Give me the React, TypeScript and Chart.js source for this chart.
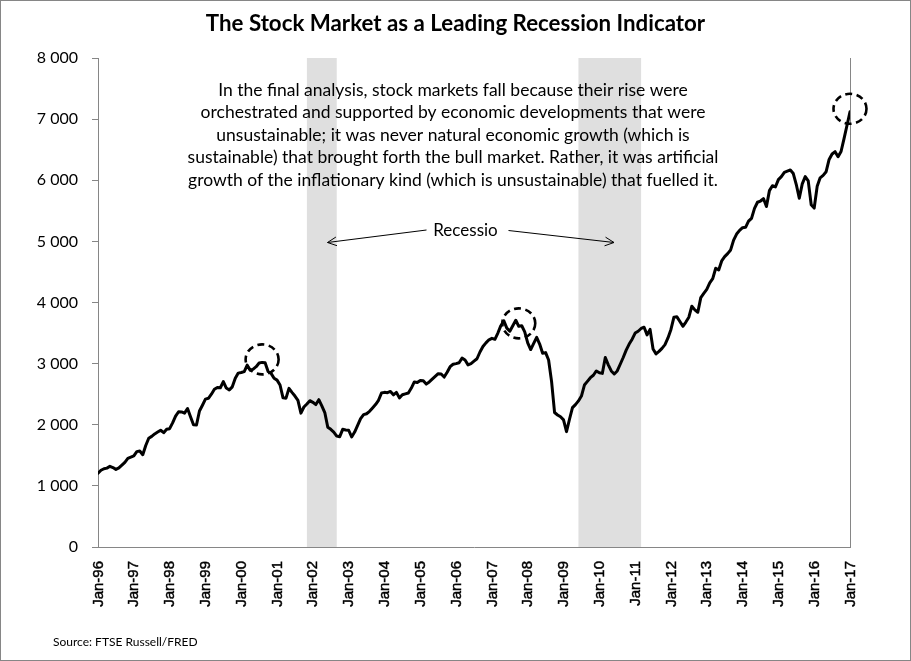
import React, { useEffect, useRef } from "react";
import { Chart, registerables } from "chart.js";

Chart.register(...registerables);

// ---- Data (monthly index level) ----
const yearLabels = [
  "Jan-96", "Jan-97", "Jan-98", "Jan-99", "Jan-00", "Jan-01", "Jan-02", "Jan-03",
  "Jan-04", "Jan-05", "Jan-06", "Jan-07", "Jan-08", "Jan-09", "Jan-10", "Jan-11",
  "Jan-12", "Jan-13", "Jan-14", "Jan-15", "Jan-16", "Jan-17",
];

const y1996 = [1206, 1255, 1280, 1290, 1320, 1300, 1270, 1295, 1340, 1385, 1450, 1470];
const y1997 = [1490, 1560, 1570, 1510, 1660, 1780, 1810, 1850, 1880, 1910, 1870, 1925];
const y1998 = [1936, 2030, 2140, 2213, 2210, 2190, 2265, 2132, 2000, 1996, 2225, 2320];
const y1999 = [2420, 2433, 2500, 2580, 2610, 2605, 2705, 2600, 2570, 2620, 2760, 2845];
const y2000 = [2855, 2870, 2975, 2890, 2910, 2950, 3010, 3020, 3015, 2870, 2840, 2760];
const y2001 = [2730, 2650, 2440, 2435, 2596, 2530, 2470, 2400, 2190, 2290, 2340, 2394];
const y2002 = [2367, 2330, 2410, 2310, 2200, 1960, 1925, 1880, 1815, 1805, 1925, 1915];
const y2003 = [1910, 1800, 1880, 1990, 2100, 2165, 2180, 2220, 2275, 2330, 2400, 2520];
const y2004 = [2530, 2525, 2545, 2490, 2530, 2440, 2490, 2505, 2520, 2600, 2700, 2690];
const y2005 = [2725, 2720, 2665, 2700, 2745, 2790, 2835, 2830, 2780, 2860, 2950, 2990];
const y2006 = [3000, 3015, 3090, 3060, 2980, 3000, 3040, 3080, 3190, 3280, 3340, 3390];
const y2007 = [3414, 3398, 3500, 3621, 3700, 3580, 3530, 3620, 3710, 3610, 3620, 3520];
const y2008 = [3340, 3230, 3330, 3430, 3320, 3170, 3180, 3060, 2705, 2200, 2160, 2130];
const y2009 = [2080, 1887, 2090, 2280, 2330, 2390, 2470, 2650, 2710, 2770, 2810, 2880];
const y2010 = [2850, 2840, 3100, 2980, 2880, 2830, 2880, 2990, 3100, 3220, 3320, 3400];
const y2011 = [3500, 3530, 3575, 3595, 3470, 3560, 3240, 3160, 3200, 3250, 3310, 3420];
const y2012 = [3560, 3760, 3765, 3690, 3610, 3680, 3760, 3940, 3880, 3840, 4080, 4150];
const y2013 = [4216, 4320, 4390, 4560, 4532, 4680, 4750, 4800, 4860, 5020, 5120, 5180];
const y2014 = [5224, 5230, 5330, 5377, 5540, 5640, 5660, 5700, 5570, 5830, 5910, 5890];
const y2015 = [6010, 6060, 6130, 6150, 6168, 6110, 5930, 5705, 5940, 6060, 5990, 5600];
const y2016 = [5545, 5900, 6040, 6080, 6140, 6340, 6430, 6467, 6385, 6470, 6680, 6900];
const y2017 = [7120];

const monthlyValues = [
  ...y1996, ...y1997, ...y1998, ...y1999, ...y2000, ...y2001, ...y2002,
  ...y2003, ...y2004, ...y2005, ...y2006, ...y2007, ...y2008, ...y2009,
  ...y2010, ...y2011, ...y2012, ...y2013, ...y2014, ...y2015, ...y2016, ...y2017,
];

// shaded recession periods, in months since Jan-96
const recessionStartMonth = [70, 161];
const recessionEndMonth = [80, 182];

// highlighted peaks (months since Jan-96)
const peakMonths = [55, 141, 252];

const titleText = "The Stock Market as a Leading Recession Indicator";
const noteLines = [
  "In the final analysis, stock markets fall because their rise were",
  "orchestrated and supported by economic developments that were",
  "unsustainable; it was never natural economic growth (which is",
  "sustainable) that brought forth the bull market. Rather, it was artificial",
  "growth of the inflationary kind (which is unsustainable) that fuelled it.",
];
const recessionLabel = "Recessio";
const sourceText = "Source: FTSE Russell/FRED";

const CALIBRI_LIKE = "Lato, 'Open Sans', sans-serif";
const ARIAL_LIKE = "'Liberation Sans', Arial, sans-serif";
const GREY = "#868686";

function arrow(ctx: CanvasRenderingContext2D, x1: number, y1: number, x2: number, y2: number) {
  ctx.beginPath();
  ctx.moveTo(x1, y1);
  ctx.lineTo(x2, y2);
  const a = Math.atan2(y2 - y1, x2 - x1);
  const len = 10;
  const spread = 0.45;
  ctx.moveTo(x2 - len * Math.cos(a - spread), y2 - len * Math.sin(a - spread));
  ctx.lineTo(x2, y2);
  ctx.lineTo(x2 - len * Math.cos(a + spread), y2 - len * Math.sin(a + spread));
  ctx.stroke();
}

const decorPlugin = {
  id: "decor",
  beforeDraw(chart: any) {
    const { ctx, width, height } = chart;
    ctx.save();
    ctx.fillStyle = "#ffffff";
    ctx.fillRect(0, 0, width, height);
    ctx.restore();
  },
  beforeDatasetsDraw(chart: any) {
    const { ctx, chartArea, scales } = chart;
    const xs = scales.x;
    ctx.save();
    ctx.fillStyle = "#DFDFDF";
    for (let i = 0; i < recessionStartMonth.length; i++) {
      const a = xs.getPixelForValue(recessionStartMonth[i]);
      const b = xs.getPixelForValue(recessionEndMonth[i]);
      ctx.fillRect(a, chartArea.top, b - a, chartArea.bottom - chartArea.top);
    }
    ctx.restore();
  },
  afterDatasetsDraw(chart: any) {
    const { ctx, width, height, scales, chartArea } = chart;
    const xs = scales.x;
    const ys = scales.y;
    ctx.save();

    // dashed circles around peaks
    ctx.strokeStyle = "#000";
    ctx.lineWidth = 2.6;
    ctx.setLineDash([7, 4.5]);
    for (const m of peakMonths) {
      const cx = xs.getPixelForValue(m);
      const cy = ys.getPixelForValue(monthlyValues[m]) - 3;
      ctx.beginPath();
      ctx.ellipse(cx, cy, 16.5, 15, 0, 0, Math.PI * 2);
      ctx.stroke();
    }
    ctx.setLineDash([]);

    // title
    ctx.fillStyle = "#000";
    ctx.textAlign = "center";
    ctx.textBaseline = "alphabetic";
    ctx.font = `bold 22.3px ${CALIBRI_LIKE}`;
    ctx.fillText(titleText, 455.5, 31);

    // note text
    ctx.font = `17.5px ${CALIBRI_LIKE}`;
    ctx.textBaseline = "middle";
    noteLines.forEach((line, i) => {
      ctx.fillText(line, 453, 90 + i * 22.5);
    });

    // recession label + arrows
    ctx.font = `17px ${CALIBRI_LIKE}`;
    ctx.fillText(recessionLabel, 465.5, 231);
    ctx.strokeStyle = "#000";
    ctx.lineWidth = 1;
    arrow(ctx, 426.5, 230, 327.5, 242.5);
    arrow(ctx, 508.5, 230.5, 614, 242.5);

    // x-axis tick labels (rotated, reading upward)
    ctx.font = `15px ${ARIAL_LIKE}`;
    ctx.textAlign = "right";
    ctx.textBaseline = "middle";
    ctx.lineWidth = 0.45;
    yearLabels.forEach((lab, i) => {
      const px = xs.getPixelForValue(i * 12);
      ctx.save();
      ctx.translate(px + 0.5, chartArea.bottom + 14);
      ctx.rotate(-Math.PI / 2);
      ctx.fillText(lab, 0, 0);
      ctx.strokeText(lab, 0, 0);
      ctx.restore();
    });

    // source
    ctx.textAlign = "left";
    ctx.font = `12px ${CALIBRI_LIKE}`;
    ctx.fillText(sourceText, 53, 642);

    // outer frame
    ctx.strokeStyle = GREY;
    ctx.lineWidth = 1;
    ctx.strokeRect(0.5, 0.5, width - 1, height - 1);
    ctx.restore();
  },
};

export default function App() {
  const ref = useRef<HTMLCanvasElement | null>(null);

  useEffect(() => {
    if (!ref.current) return;
    const chart = new Chart(ref.current, {
      type: "line",
      data: {
        datasets: [
          {
            label: "Index",
            data: monthlyValues.map((v, i) => ({ x: i, y: v })),
            borderColor: "#000",
            borderWidth: 3,
            pointRadius: 0,
            tension: 0,
            borderJoinStyle: "round",
            borderCapStyle: "round",
            fill: false,
          },
        ],
      },
      options: {
        animation: false,
        responsive: false,
        devicePixelRatio: 1,
        layout: { padding: { top: 58, left: 0, right: 61, bottom: 0 } },
        plugins: {
          legend: { display: false },
          title: { display: false },
          tooltip: { enabled: false },
        },
        scales: {
          x: {
            type: "linear",
            min: 0,
            max: 252,
            afterFit: (s: any) => {
              s.height = 114;
            },
            ticks: {
              stepSize: 12,
              autoSkip: false,
              display: false,
            },
            grid: { display: false, drawTicks: false },
            border: { display: true, color: GREY, width: 1 },
          },
          y: {
            min: 0,
            max: 8000,
            afterFit: (s: any) => {
              s.width = 98;
            },
            ticks: {
              stepSize: 1000,
              padding: 14,
              color: "#000",
              font: { family: CALIBRI_LIKE, size: 16 },
              callback: (v: any) => {
                const n = Number(v);
                if (n === 0) return "0";
                const th = Math.floor(n / 1000);
                const rest = String(n % 1000).padStart(3, "0");
                return `${th} ${rest}`;
              },
            },
            grid: { drawOnChartArea: false, drawTicks: true, tickLength: 6, color: GREY },
            border: { display: true, color: GREY, width: 1 },
          },
          y2: {
            position: "right",
            min: 0,
            max: 8000,
            afterFit: (s: any) => {
              s.width = 0;
            },
            ticks: { display: false },
            grid: { display: false, drawTicks: false },
            border: { display: true, color: GREY, width: 1 },
          },
        },
      },
      plugins: [decorPlugin],
    } as any);
    return () => chart.destroy();
  }, []);

  return (
    <div style={{ position: "fixed", left: 0, top: 0, width: 911, height: 661, background: "#fff" }}>
      <canvas ref={ref} width={911} height={661} style={{ display: "block" }} />
    </div>
  );
}
